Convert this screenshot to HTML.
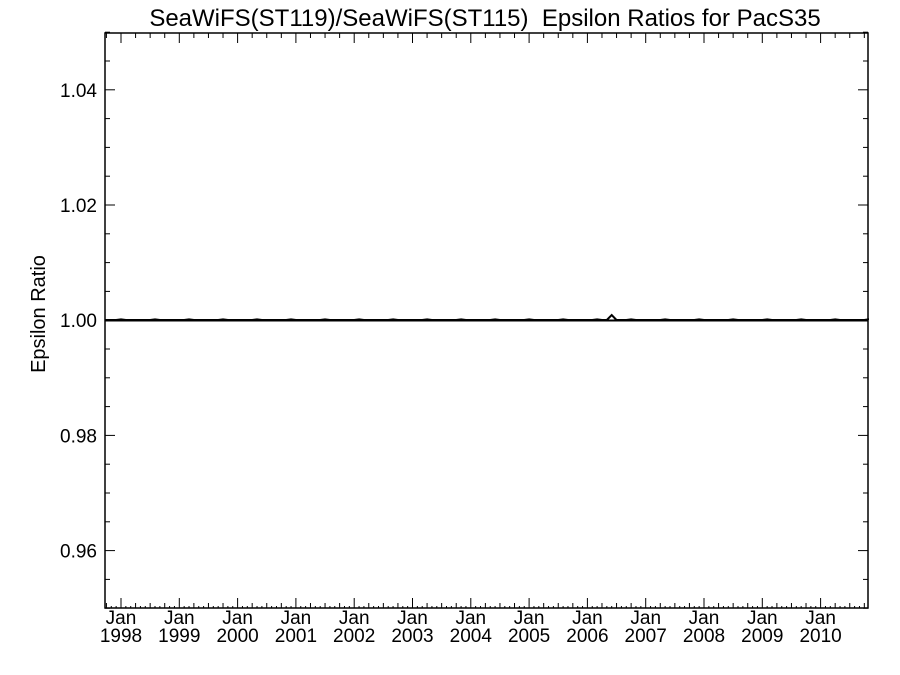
<!DOCTYPE html>
<html><head><meta charset="utf-8"><style>
html,body{margin:0;padding:0;background:#fff;}
svg{display:block;font-family:"Liberation Sans",Arial,sans-serif;}
</style></head><body>
<svg id="s" width="900" height="675" viewBox="0 0 900 675" xmlns="http://www.w3.org/2000/svg">
<rect width="900" height="675" fill="#fff"/>
<text x="485" y="26" font-size="24" text-anchor="middle" fill="#000">SeaWiFS(ST119)/SeaWiFS(ST115)&#160; Epsilon Ratios for PacS35</text>
<text transform="translate(45,314) rotate(-90)" font-size="20" text-anchor="middle" fill="#000">Epsilon Ratio</text>
<g id="g" stroke="#000" stroke-width="1" fill="none"></g>
<g id="t" font-size="19" fill="#000"></g>
</svg>
<script>
var L=105,R=868,T=33,B=608;
var g=document.getElementById('g'),t=document.getElementById('t');
var ns='http://www.w3.org/2000/svg';
function ln(x1,y1,x2,y2,w,extra){var e=document.createElementNS(ns,'line');e.setAttribute('x1',x1);e.setAttribute('y1',y1);e.setAttribute('x2',x2);e.setAttribute('y2',y2);if(w)e.setAttribute('stroke-width',w);if(extra)e.setAttribute('stroke-dasharray',extra);g.appendChild(e);}
function tx(x,y,s,a){var e=document.createElementNS(ns,'text');e.setAttribute('x',x);e.setAttribute('y',y);e.setAttribute('text-anchor',a);e.textContent=s;t.appendChild(e);}
var r=document.createElementNS(ns,'rect');r.setAttribute('x',L);r.setAttribute('y',T);r.setAttribute('width',R-L);r.setAttribute('height',B-T);r.setAttribute('stroke-width','1.5');g.appendChild(r);
function yv(v){return 320.2+(1-v)*5760;}
for(var i=0;i<=20;i++){var v=0.95+i*0.005;var y=yv(v);var maj=(i%4==2);var len=maj?10:5;
 ln(L,y,L+len,y);ln(R,y,R-len,y);
 if(maj)tx(97,y+7,v.toFixed(2),'end');}
var ppy=58.3,x98=121;
for(var m=-4;m<=12*13+2;m++){var x=x98+m*ppy/12;if(x<L||x>R)continue;
 if(m%12==0){ln(x,B,x,B-10);ln(x,T,x,T+10);var yr=1998+m/12;tx(x,624,'Jan','middle');tx(x,642,String(yr),'middle');}
 else if(m%3==0){ln(x,B,x,B-5);ln(x,T,x,T+5);}
 else{ln(x,B,x,B-2);}
}
var pts=[];for(var m=-4;m<=12*13;m++){var x=x98+m*ppy/12;if(x<L)x=L;if(x>R)x=R;var y=320+(m%7==0?-0.6:0);
 if(Math.abs(x-611)<4)y=315;pts.push(x.toFixed(1)+','+y);}
var p=document.createElementNS(ns,'polyline');p.setAttribute('points',pts.join(' '));p.setAttribute('stroke-width','2');g.appendChild(p);
ln(L,320.5,R,320.5,2);
</script>
</body></html>
